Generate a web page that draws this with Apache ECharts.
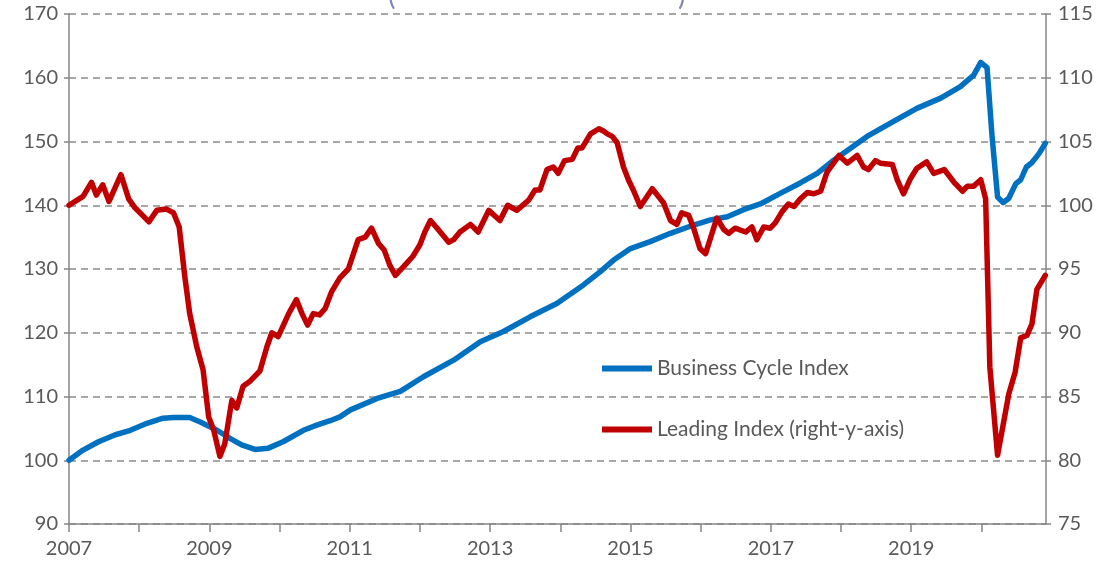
<!DOCTYPE html>
<html>
<head>
<meta charset="utf-8">
<script src="https://cdn.jsdelivr.net/npm/echarts@6/dist/echarts.min.js"></script>
<style>
  html, body { margin: 0; padding: 0; background: #fff; }
  #chart { width: 1114px; height: 569px; }
</style>
</head>
<body>
<div id="chart"></div>
<script>
// Business Cycle Index (left axis), x as decimal year
var cycleYears = [2007.00, 2007.20, 2007.42, 2007.66, 2007.85, 2008.11, 2008.34, 2008.49, 2008.72, 2008.87,
  2009.11, 2009.30, 2009.46, 2009.65, 2009.84, 2010.05, 2010.34, 2010.53, 2010.72, 2010.86,
  2011.01, 2011.39, 2011.72, 2012.05, 2012.48, 2012.86, 2013.19, 2013.57, 2013.95, 2014.33,
  2014.57, 2014.76, 2015.00, 2015.28, 2015.57, 2015.90, 2016.14, 2016.38, 2016.61, 2016.85,
  2017.14, 2017.42, 2017.66, 2017.90, 2018.13, 2018.37, 2018.61, 2018.85, 2019.08, 2019.42,
  2019.70, 2019.89, 2019.99, 2020.08, 2020.15, 2020.23, 2020.31, 2020.39, 2020.49, 2020.56,
  2020.64, 2020.72, 2020.82, 2020.91]
var cycleValues = [100.0, 101.6, 102.9, 104.0, 104.6, 105.8, 106.6, 106.7, 106.7, 106.0,
  104.7, 103.4, 102.4, 101.7, 101.9, 102.9, 104.7, 105.5, 106.2, 106.8,
  107.9, 109.7, 110.8, 113.1, 115.7, 118.6, 120.2, 122.5, 124.6, 127.5,
  129.6, 131.4, 133.2, 134.3, 135.6, 136.9, 137.7, 138.2, 139.3, 140.2,
  141.9, 143.5, 145.0, 147.1, 148.9, 150.8, 152.3, 153.8, 155.2, 156.8,
  158.6, 160.4, 162.4, 161.6, 151.0, 141.3, 140.4, 141.1, 143.4, 144.0,
  146.0, 146.7, 148.1, 149.7]

// Leading Index (right axis)
var leadingYears = [2007.00, 2007.20, 2007.32, 2007.39, 2007.48, 2007.57, 2007.74, 2007.85, 2007.94, 2008.14,
  2008.25, 2008.39, 2008.49, 2008.57, 2008.65, 2008.72, 2008.82, 2008.91, 2008.99, 2009.06,
  2009.15, 2009.22, 2009.32, 2009.39, 2009.48, 2009.58, 2009.72, 2009.82, 2009.89, 2009.98,
  2010.13, 2010.24, 2010.32, 2010.40, 2010.48, 2010.57, 2010.65, 2010.74, 2010.86, 2010.98,
  2011.12, 2011.22, 2011.31, 2011.41, 2011.49, 2011.57, 2011.65, 2011.77, 2011.90, 2012.00,
  2012.07, 2012.15, 2012.26, 2012.41, 2012.48, 2012.57, 2012.72, 2012.83, 2012.98, 2013.14,
  2013.25, 2013.38, 2013.55, 2013.64, 2013.71, 2013.81, 2013.90, 2013.97, 2014.06, 2014.17,
  2014.25, 2014.31, 2014.43, 2014.55, 2014.62, 2014.67, 2014.74, 2014.81, 2014.90, 2014.97,
  2015.04, 2015.14, 2015.31, 2015.47, 2015.57, 2015.66, 2015.73, 2015.83, 2015.90, 2015.99,
  2016.07, 2016.23, 2016.33, 2016.40, 2016.49, 2016.64, 2016.73, 2016.80, 2016.90, 2016.99,
  2017.06, 2017.16, 2017.25, 2017.33, 2017.42, 2017.52, 2017.61, 2017.71, 2017.80, 2017.97,
  2018.09, 2018.23, 2018.32, 2018.39, 2018.49, 2018.56, 2018.73, 2018.80, 2018.89, 2018.99,
  2019.08, 2019.22, 2019.32, 2019.47, 2019.61, 2019.73, 2019.80, 2019.89, 2019.99, 2020.06,
  2020.12, 2020.23, 2020.39, 2020.48, 2020.56, 2020.65, 2020.72, 2020.79, 2020.91]
var leadingValues = [100.0, 100.7, 101.8, 100.8, 101.6, 100.3, 102.4, 100.5, 99.8, 98.7,
  99.6, 99.7, 99.4, 98.3, 94.4, 91.5, 88.9, 87.1, 83.4, 82.4,
  80.3, 81.3, 84.7, 84.1, 85.8, 86.2, 87.0, 88.9, 90.0, 89.7,
  91.5, 92.6, 91.5, 90.6, 91.5, 91.4, 91.9, 93.2, 94.3, 95.0,
  97.3, 97.5, 98.2, 97.0, 96.5, 95.3, 94.5, 95.2, 96.0, 96.9,
  97.9, 98.8, 98.1, 97.1, 97.3, 97.9, 98.5, 97.9, 99.6, 98.8,
  100.0, 99.6, 100.4, 101.2, 101.2, 102.8, 103.0, 102.5, 103.5, 103.6,
  104.5, 104.5, 105.6, 106.0, 105.8, 105.6, 105.4, 104.9, 103.0, 102.0,
  101.2, 99.9, 101.3, 100.2, 98.8, 98.5, 99.4, 99.2, 98.2, 96.6,
  96.2, 99.0, 98.1, 97.8, 98.2, 97.9, 98.3, 97.3, 98.3, 98.2,
  98.6, 99.5, 100.1, 99.9, 100.5, 101.0, 100.9, 101.1, 102.6, 103.9,
  103.3, 103.9, 103.0, 102.8, 103.5, 103.3, 103.2, 102.0, 100.9, 102.1,
  102.9, 103.4, 102.5, 102.8, 101.8, 101.1, 101.5, 101.5, 102.0, 100.5,
  87.3, 80.4, 85.2, 86.9, 89.6, 89.8, 90.7, 93.4, 94.5]

var seriesNames = ['Business Cycle Index', 'Leading Index (right-y-axis)']

function pairs (xs, ys) {
  return xs.map(function (x, i) { return [x, ys[i]] })
}

var chart = echarts.init(document.getElementById('chart'))
var labelColor = '#595959'
var axisGray = '#868686'
var font = 'Lato, "Open Sans", sans-serif'

chart.setOption({
  animation: false,
  grid: { left: 69, right: 68, top: 14, bottom: 45 },
  graphic: [
    { type: 'text', left: 388, top: -18, style: { text: '(', fill: '#8585b8', font: '28px ' + font } },
    { type: 'text', left: 678, top: -18, style: { text: ')', fill: '#8585b8', font: '28px ' + font } }
  ],
  legend: {
    data: seriesNames,
    orient: 'vertical',
    left: 597,
    top: 353,
    icon: 'rect',
    itemWidth: 50,
    itemHeight: 6,
    itemGap: 40,
    textStyle: { color: labelColor, fontSize: 21, fontFamily: font }
  },
  xAxis: {
    type: 'value',
    min: 2007,
    max: 2020.92,
    interval: 1,
    axisLine: { show: true, lineStyle: { color: axisGray, width: 1.5 } },
    axisTick: { show: true, length: 8, lineStyle: { color: axisGray, width: 1.5 } },
    splitLine: { show: false },
    axisLabel: {
      color: labelColor,
      fontSize: 20,
      fontFamily: font,
      margin: 15,
      showMaxLabel: false,
      formatter: function (v) {
        return (Math.abs(v - Math.round(v)) < 1e-6 && Math.round(v) % 2 === 1) ? String(Math.round(v)) : ''
      }
    }
  },
  yAxis: [{
    type: 'value',
    min: 90,
    max: 170,
    interval: 10,
    axisLine: { show: true, lineStyle: { color: axisGray, width: 1.5 } },
    axisTick: { show: true, length: 5, lineStyle: { color: axisGray, width: 1.5 } },
    splitLine: { show: true, lineStyle: { color: '#8a8a8a', width: 1.5, type: [7, 5] } },
    axisLabel: { color: labelColor, fontSize: 20, fontFamily: font, margin: 11 }
  }, {
    type: 'value',
    min: 75,
    max: 115,
    interval: 5,
    position: 'right',
    axisLine: { show: true, lineStyle: { color: axisGray, width: 1.5 } },
    axisTick: { show: true, length: 5, lineStyle: { color: axisGray, width: 1.5 } },
    splitLine: { show: false },
    axisLabel: { color: labelColor, fontSize: 20, fontFamily: font, margin: 12 }
  }],
  series: [{
    name: seriesNames[0],
    type: 'line',
    yAxisIndex: 0,
    symbol: 'none',
    color: '#0070C0',
    lineStyle: { width: 5.5, color: '#0070C0', cap: 'round', join: 'round' },
    data: pairs(cycleYears, cycleValues)
  }, {
    name: seriesNames[1],
    type: 'line',
    yAxisIndex: 1,
    symbol: 'none',
    color: '#C00000',
    lineStyle: { width: 5.5, color: '#C00000', cap: 'round', join: 'round' },
    data: pairs(leadingYears, leadingValues)
  }]
})
</script>
</body>
</html>
